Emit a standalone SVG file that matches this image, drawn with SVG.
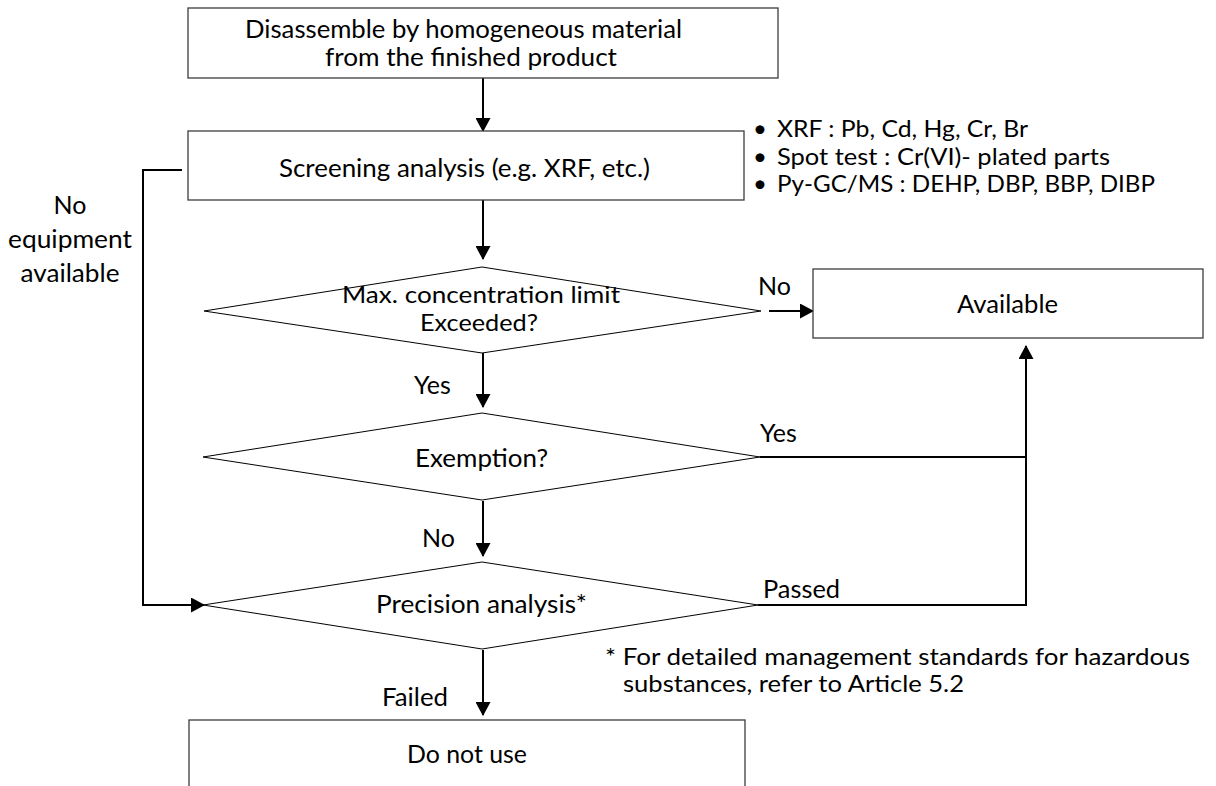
<svg xmlns="http://www.w3.org/2000/svg" width="1216" height="786" viewBox="0 0 1216 786">
<style>
.t{font-family:Lato,"Open Sans","Liberation Sans",sans-serif;font-size:25px;fill:#000}
.s{font-size:24px}
.d{font-size:23px}
.m{text-anchor:middle}
.box{fill:#fff;stroke:#3c3c3c;stroke-width:1.3}
.dia{fill:#fff;stroke:#000;stroke-width:1}
.ln{fill:none;stroke:#000;stroke-width:2}
</style>
<defs>
<marker id="ah" viewBox="0 0 14 15" refX="13" refY="7.5" markerWidth="14" markerHeight="15" markerUnits="userSpaceOnUse" orient="auto">
<path d="M0,0 L14,7.5 L0,15 z" fill="#000"/>
</marker>
</defs>
<rect width="1216" height="786" fill="#fff"/>

<g id="connectors">
<line class="ln" x1="483" y1="78" x2="483" y2="131" marker-end="url(#ah)"/>
<line class="ln" x1="483" y1="200" x2="483" y2="259" marker-end="url(#ah)"/>
<line class="ln" x1="769" y1="311" x2="813" y2="311" marker-end="url(#ah)"/>
<line class="ln" x1="483" y1="353" x2="483" y2="407" marker-end="url(#ah)"/>
<polyline class="ln" points="760,457 1026,457 1026,346" marker-end="url(#ah)"/>
<line class="ln" x1="483" y1="501" x2="483" y2="556" marker-end="url(#ah)"/>
<polyline class="ln" points="758,605 1026,605 1026,456"/>
<line class="ln" x1="483" y1="650" x2="483" y2="715" marker-end="url(#ah)"/>
<polyline class="ln" points="182,170 143,170 143,605 204,605" marker-end="url(#ah)"/>
</g>

<g id="n-disassemble">
<rect class="box" x="188" y="8" width="590" height="70"/>
<text class="t m" x="463.5" y="38" textLength="437" lengthAdjust="spacingAndGlyphs">Disassemble by homogeneous material</text>
<text class="t m" x="471" y="66" textLength="292" lengthAdjust="spacingAndGlyphs">from the finished product</text>
</g>

<g id="n-screening">
<rect class="box" x="188" y="131" width="556" height="69"/>
<text class="t m" x="464.5" y="177" textLength="371" lengthAdjust="spacingAndGlyphs">Screening analysis (e.g. XRF, etc.)</text>
</g>

<g id="screening-note">
<text class="t s" x="753" y="137">•</text>
<text class="t s" x="777" y="137" textLength="251" lengthAdjust="spacingAndGlyphs">XRF : Pb, Cd, Hg, Cr, Br</text>
<text class="t s" x="753" y="165">•</text>
<text class="t s" x="777" y="165" textLength="333" lengthAdjust="spacingAndGlyphs">Spot test : Cr(VI)- plated parts</text>
<text class="t s" x="753" y="192">•</text>
<text class="t s" x="777" y="192" textLength="378" lengthAdjust="spacingAndGlyphs">Py-GC/MS : DEHP, DBP, BBP, DIBP</text>
</g>

<g id="d-maxconc">
<polygon class="dia" points="482,267 761,311 482,353 204,311"/>
<text class="t d m" x="481" y="303" textLength="278" lengthAdjust="spacingAndGlyphs">Max. concentration limit</text>
<text class="t d m" x="479" y="331" textLength="118" lengthAdjust="spacingAndGlyphs">Exceeded?</text>
</g>

<g id="n-available">
<rect class="box" x="813" y="269" width="390" height="69"/>
<text class="t m" x="1007.5" y="313" textLength="101" lengthAdjust="spacingAndGlyphs">Available</text>
</g>

<g id="d-exemption">
<polygon class="dia" points="482,413 760,457 482,500 203,457"/>
<text class="t m" x="481.5" y="467" textLength="133" lengthAdjust="spacingAndGlyphs">Exemption?</text>
</g>

<g id="d-precision">
<polygon class="dia" points="482,562 758,605 482,649 203,605"/>
<text class="t m" x="481.5" y="613" textLength="211" lengthAdjust="spacingAndGlyphs">Precision analysis*</text>
</g>

<g id="n-donotuse">
<rect class="box" x="189" y="720" width="556" height="80"/>
<text class="t m" x="467" y="763" textLength="120" lengthAdjust="spacingAndGlyphs">Do not use</text>
</g>

<g id="labels">
<text class="t m" x="70" y="214">No</text>
<text class="t m" x="70" y="248" textLength="124" lengthAdjust="spacingAndGlyphs">equipment</text>
<text class="t m" x="70" y="282" textLength="99" lengthAdjust="spacingAndGlyphs">available</text>
<text class="t" x="758" y="295">No</text>
<text class="t" x="414" y="394">Yes</text>
<text class="t" x="760" y="442">Yes</text>
<text class="t" x="422" y="547">No</text>
<text class="t" x="763" y="598" textLength="77" lengthAdjust="spacingAndGlyphs">Passed</text>
<text class="t" x="382" y="706" textLength="66" lengthAdjust="spacingAndGlyphs">Failed</text>
</g>

<g id="footnote">
<text class="t s" x="605" y="665" textLength="585" lengthAdjust="spacingAndGlyphs">* For detailed management standards for hazardous</text>
<text class="t s" x="623" y="692" textLength="341" lengthAdjust="spacingAndGlyphs">substances, refer to Article 5.2</text>
</g>
</svg>
